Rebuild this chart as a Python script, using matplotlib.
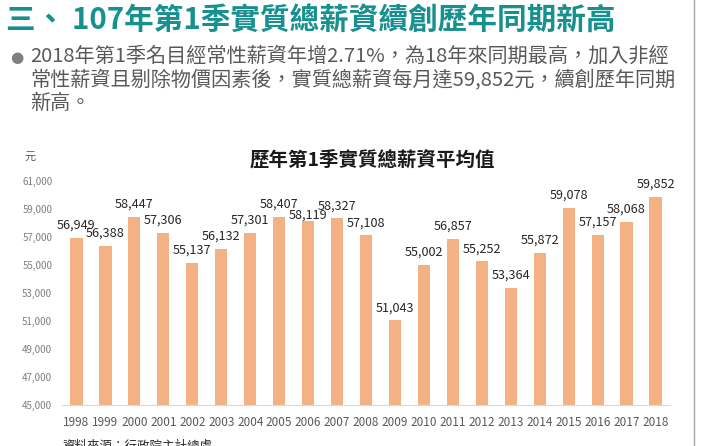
import numpy as np
import matplotlib
matplotlib.use('Agg')
import matplotlib.pyplot as plt
from matplotlib.lines import Line2D

plt.rcParams['font.family'] = ['Noto Sans CJK TC', 'DejaVu Sans']

# data
years = ['1998', '1999', '2000', '2001', '2002', '2003', '2004', '2005', '2006', '2007',
         '2008', '2009', '2010', '2011', '2012', '2013', '2014', '2015', '2016', '2017', '2018']
wages = [56949, 56388, 58447, 57306, 55137, 56132, 57301, 58407, 58119, 58327,
         57108, 51043, 55002, 56857, 55252, 53364, 55872, 59078, 57157, 58068, 59852]
yticks = list(range(45000, 61001, 2000))

slide_title = '三、 107年第1季實質總薪資續創歷年同期新高'
bullet_lines = ['2018年第1季名目經常性薪資年增2.71%，為18年來同期最高，加入非經',
                '常性薪資且剔除物價因素後，實質總薪資每月達59,852元，續創歷年同期',
                '新高。']
chart_title = '歷年第1季實質總薪資平均值'
unit = '元'
source = '資料來源：行政院主計總處'

W, H = 720, 446
fig = plt.figure(figsize=(W / 100, H / 100), dpi=100)

def fx(px):
    return px / W

def fy(py):
    return 1 - py / H

# slide header
fig.text(fx(6), fy(21), slide_title, fontsize=21.3, fontweight='bold', color='#17918f',
         ha='left', va='center')
fig.text(fx(17), fy(57), '●', fontsize=11, color='#7f7f7f', ha='center', va='center',
         family=['DejaVu Sans'])
for i, line in enumerate(bullet_lines):
    fig.text(fx(30), fy(56 + i * 23.5), line, fontsize=14.5, color='#595959',
             ha='left', va='center')

# right border of the slide
fig.add_artist(Line2D([fx(694), fx(694)], [0, 1], color='#a6a6a6', lw=1))

# chart
ax = fig.add_axes([fx(62), fy(405), fx(670) - fx(62), fy(181) - fy(405)])
x = np.arange(len(years))
ax.bar(x, wages, width=0.42, color='#f4b183')

# the 2006 label sits lower on the slide, next to its neighbours
label_shift = {8: -4.5}
for xi, v in zip(x, wages):
    ax.annotate(f'{v:,}', (xi, v), xytext=(0, 4.5 + label_shift.get(xi, 0)),
                textcoords='offset points', ha='center', va='bottom',
                fontsize=9.1, color='#262626', fontweight='medium')

ax.set_xlim(-0.5, len(years) - 0.5)
ax.set_ylim(45000, 61000)
ax.set_xticks(x)
ax.set_xticklabels(years, fontsize=8.5, color='#595959')
ax.set_yticks(yticks)
ax.set_yticklabels([f'{t:,}' for t in yticks], fontsize=7, color='#7f7f7f')
ax.tick_params(length=0, pad=8)
ax.tick_params(axis='y', pad=7)
for s in ['top', 'right', 'left']:
    ax.spines[s].set_visible(False)
ax.spines['bottom'].set_color('#d9d9d9')
ax.set_facecolor('none')

fig.text(fx(372), fy(161), chart_title, fontsize=14, fontweight='bold',
         color='#1a1a1a', ha='center', va='center')
fig.text(fx(30), fy(157), unit, fontsize=8, color='#595959', ha='center', va='center')
fig.text(fx(62), fy(440), source, fontsize=9, color='#262626', ha='left', va='top')

fig.savefig('out.png', dpi=100)
